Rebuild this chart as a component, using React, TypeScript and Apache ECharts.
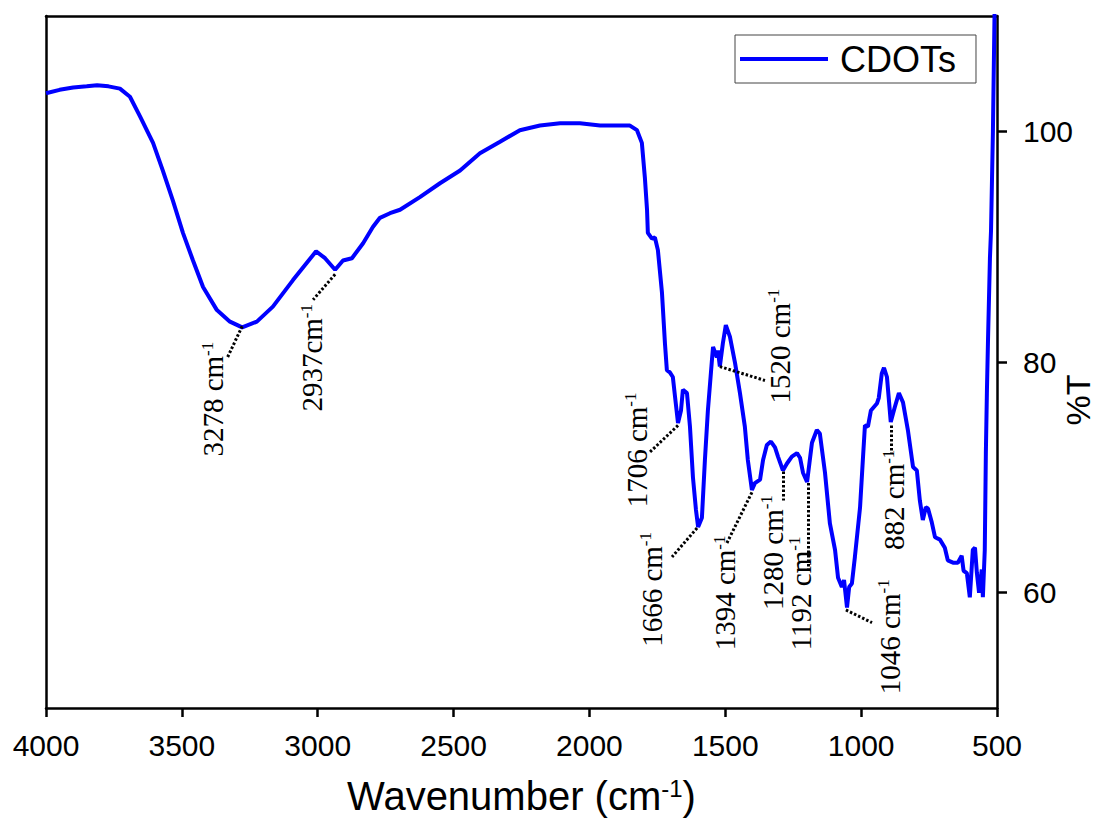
import React, { useEffect, useRef } from 'react';
import * as echarts from 'echarts';

// FTIR spectrum of CDOTs (wavenumber in cm-1, transmittance in %T)
const wavenumber = [
  4000, 3950, 3900, 3850, 3812, 3770, 3728, 3691, 3654, 3606, 3570, 3533, 3496, 3459, 3422, 3371, 3323, 3278, 3224, 3165,
  3091, 3040, 3006, 2973, 2936, 2907, 2874, 2833, 2797, 2771, 2734, 2697, 2624, 2550, 2476, 2403, 2329, 2256, 2182, 2108,
  2035, 1961, 1900, 1851, 1825, 1807, 1796, 1788, 1785, 1770, 1759, 1748, 1733, 1722, 1715, 1704, 1693, 1685, 1674, 1663,
  1656, 1641, 1630, 1619, 1608, 1600, 1586, 1575, 1564, 1549, 1545, 1531, 1527, 1520, 1509, 1498, 1483, 1464, 1446, 1428,
  1417, 1402, 1391, 1372, 1361, 1347, 1332, 1317, 1306, 1288, 1273, 1255, 1236, 1225, 1214, 1199, 1181, 1163, 1152, 1133,
  1115, 1096, 1085, 1071, 1063, 1052, 1044, 1034, 1023, 1004, 993, 986, 975, 964, 942, 935, 924, 916, 905, 891,
  876, 861, 846, 828, 809, 795, 784, 773, 762, 754, 740, 728, 710, 692, 681, 662, 644, 630, 623, 611,
  600, 589, 581, 574, 566, 556, 552, 545, 541, 537, 533, 526, 522, 515, 508,
];
const transmittance = [
  103.3, 103.6, 103.8, 103.9, 104.0, 103.9, 103.7, 103.0, 101.3, 99.0, 96.6, 94.0, 91.2, 88.8, 86.5, 84.5, 83.5, 83.0, 83.5, 84.8,
  87.1, 88.6, 89.6, 89.0, 88.0, 88.8, 89.0, 90.3, 91.7, 92.5, 92.9, 93.2, 94.3, 95.5, 96.6, 98.1, 99.1, 100.1, 100.5, 100.7,
  100.7, 100.5, 100.5, 100.5, 100.1, 99.0, 96.0, 93.2, 91.2, 90.7, 90.8, 89.7, 86.0, 81.6, 79.3, 79.1, 78.7, 77.0, 74.7, 75.8,
  77.6, 77.3, 74.4, 70.0, 67.2, 65.7, 66.5, 71.5, 75.8, 80.2, 81.3, 80.4, 81.0, 79.6, 81.6, 83.2, 82.2, 79.9, 77.3, 74.4,
  71.5, 68.9, 69.5, 69.8, 71.5, 72.8, 73.1, 72.6, 71.8, 70.6, 71.2, 71.8, 72.1, 71.7, 70.4, 69.6, 73.0, 74.1, 73.8, 70.4,
  66.0, 63.7, 61.3, 60.5, 61.1, 58.7, 60.5, 60.8, 63.1, 67.4, 71.8, 74.5, 74.4, 75.8, 76.4, 76.9, 79.0, 79.5, 78.7, 74.8,
  76.1, 77.3, 76.5, 74.1, 70.9, 70.6, 68.0, 66.3, 67.4, 67.3, 66.1, 64.8, 64.6, 63.9, 62.8, 62.6, 62.6, 63.2, 61.9, 61.7,
  59.6, 63.7, 63.9, 61.7, 60.0, 62.0, 59.6, 63.7, 72.1, 77.6, 82.0, 89.0, 91.4, 100.0, 112.0,
];

const seriesName = 'CDOTs';
const yTickValues = [60, 80, 100];

// Peak annotations: text, leader line (curve point -> end), and label start point (data coordinates)
const annotationText = ['3278 cm', '2937cm', '1706 cm', '1666 cm', '1520 cm', '1394 cm', '1280 cm', '1192 cm', '1046 cm', '882 cm'];
const leaderStart = [
  [3278, 83.1], [2936, 87.6], [1674, 74.5], [1604, 65.6], [1520, 79.6],
  [1402, 68.7], [1288, 70.5], [1196, 69.5], [1056, 58.5], [889, 74.5],
];
const leaderEnd = [
  [3334, 80.3], [3017, 85.4], [1777, 72.2], [1696, 63.1], [1354, 78.4],
  [1494, 64.3], [1288, 68.0], [1196, 61.7], [960, 57.4], [889, 72.1],
];
const labelStart = [
  [3385, 71.8], [3021, 75.7], [1825, 67.4], [1770, 55.3], [1299, 76.4],
  [1501, 55.0], [1325, 58.5], [1223, 55.0], [894, 51.2], [879, 63.7],
];

export default function App() {
  const ref = useRef<HTMLDivElement>(null);

  useEffect(() => {
    const chart = echarts.init(ref.current!, null, { renderer: 'svg' });
    const axisLineStyle = { color: '#000', width: 2.5 };
    const plainNumber = (v: number) => String(v);
    chart.setOption({
      animation: false,
      backgroundColor: '#fff',
      grid: { left: 46, right: 106, top: 16, bottom: 118, containLabel: false, outerBoundsMode: 'none' },
      legend: {
        left: 735,
        top: 35,
        icon: 'rect',
        itemWidth: 88,
        itemHeight: 4,
        padding: [6, 20, 6, 5],
        borderColor: '#444',
        borderWidth: 1,
        backgroundColor: '#fff',
        textStyle: { fontSize: 36, fontFamily: 'Liberation Sans', color: '#000', padding: [0, 0, 0, 7] },
        data: [seriesName],
      },
      xAxis: [
        {
          type: 'value',
          position: 'bottom',
          min: 500,
          max: 4000,
          interval: 500,
          inverse: true,
          axisLine: { show: true, onZero: false, lineStyle: axisLineStyle },
          axisTick: { show: true, inside: false, length: 9, lineStyle: axisLineStyle },
          axisLabel: { fontSize: 30, fontFamily: 'Liberation Sans', color: '#000', margin: 22, formatter: plainNumber },
          splitLine: { show: false },
          name: '{a|Wavenumber (cm}{s|-1}{a|)}',
          nameLocation: 'middle',
          nameGap: 68,
          nameMoveOverlap: false,
          nameTextStyle: {
            rich: {
              a: { fontSize: 40, fontFamily: 'Liberation Sans', color: '#000' },
              s: { fontSize: 24, fontFamily: 'Liberation Sans', color: '#000', verticalAlign: 'top' },
            },
          },
        },
        {
          type: 'value',
          position: 'top',
          min: 500,
          max: 4000,
          inverse: true,
          axisLine: { show: true, onZero: false, lineStyle: axisLineStyle },
          axisTick: { show: false },
          axisLabel: { show: false },
          splitLine: { show: false },
        },
      ],
      yAxis: [
        {
          type: 'value',
          position: 'right',
          min: 50,
          max: 110,
          interval: 10,
          axisLine: { show: true, onZero: false, lineStyle: axisLineStyle },
          axisTick: { show: true, inside: false, length: 10, lineStyle: axisLineStyle, customValues: yTickValues },
          axisLabel: { fontSize: 30, fontFamily: 'Liberation Sans', color: '#000', margin: 26, customValues: yTickValues, formatter: plainNumber },
          splitLine: { show: false },
          name: '%T',
          nameLocation: 'middle',
          nameRotate: 90,
          nameGap: 64,
          nameMoveOverlap: false,
          nameTextStyle: { fontSize: 34, fontFamily: 'Liberation Sans', color: '#000', padding: [0, 76, 0, 0] },
        },
        {
          type: 'value',
          position: 'left',
          min: 50,
          max: 110,
          axisLine: { show: true, onZero: false, lineStyle: axisLineStyle },
          axisTick: { show: false },
          axisLabel: { show: false },
          splitLine: { show: false },
        },
      ],
      series: [
        {
          type: 'line',
          name: seriesName,
          xAxisIndex: 0,
          yAxisIndex: 0,
          data: wavenumber.map((w, i) => [w, transmittance[i]]),
          showSymbol: false,
          symbol: 'none',
          color: '#0000ff',
          lineStyle: { color: '#0000ff', width: 4 },
          markLine: {
            silent: true,
            symbol: ['none', 'none'],
            label: { show: false },
            lineStyle: { color: '#000', width: 3, type: [2.5, 2] },
            data: leaderStart.map((s, i) => [{ coord: s }, { coord: leaderEnd[i] }]),
          },
        },
      ],
    });

    const graphics = annotationText.map((t, i) => {
      const p = chart.convertToPixel({ xAxisIndex: 0, yAxisIndex: 0 }, labelStart[i]) as number[];
      return {
        type: 'text',
        x: p[0],
        y: p[1],
        rotation: Math.PI / 2,
        silent: true,
        style: {
          text: `{a|${t}}{s|-1}`,
          align: 'left',
          verticalAlign: 'middle',
          rich: {
            a: { fontSize: 29, fontFamily: 'Liberation Serif', fill: '#000' },
            s: { fontSize: 17, fontFamily: 'Liberation Serif', fill: '#000', verticalAlign: 'top' },
          },
        },
      };
    });
    chart.setOption({ graphic: graphics });

    return () => chart.dispose();
  }, []);

  return (
    <div
      ref={ref}
      style={{ position: 'absolute', left: 0, top: 0, width: 1103, height: 826 }}
    />
  );
}
